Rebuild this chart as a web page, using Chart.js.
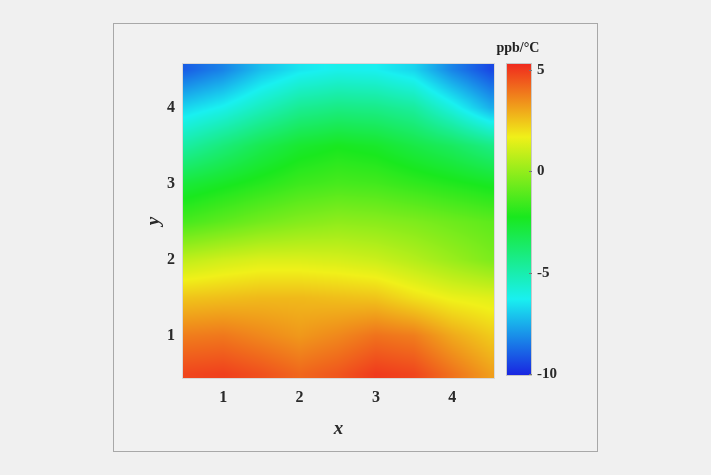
<!DOCTYPE html>
<html>
<head>
<meta charset="utf-8">
<script src="https://cdn.jsdelivr.net/npm/chart.js@4.4.1/dist/chart.umd.min.js"></script>
<style>
  html, body { margin: 0; padding: 0; background: #f0f0f0; }
  body { width: 711px; height: 475px; position: relative; overflow: hidden; }
  #frame { position: absolute; left: 113px; top: 23px; width: 483px; height: 427px; border: 1px solid #a8a8a8; background: #f1f1f1; }
  #main { position: absolute; left: 0; top: 0; }
  #cbar { position: absolute; left: 490px; top: 30px; }
  #unit { position: absolute; left: 488px; top: 40px; width: 60px; text-align: center;
          font: bold 14px "Liberation Serif", serif; color: #222; }
</style>
</head>
<body>
<div id="frame"></div>
<canvas id="main" width="711" height="475"></canvas>
<canvas id="cbar" width="100" height="360"></canvas>
<div id="unit">ppb/°C</div>
<script>
// grid of values (rows from y = 0.5 up to y = 4.5)
const xGrid = [0.5, 1, 1.5, 2, 2.5, 3, 3.5, 4, 4.5];
const yGrid = [0.5, 1, 1.5, 2, 2.5, 3, 3.5, 4, 4.5];
const zRows = [
  [4.8, 4.9, 4.6, 4.2, 4.5, 5.0, 4.8, 4.0, 3.2],
  [3.8, 3.9, 3.6, 3.3, 3.6, 4.0, 3.8, 3.0, 2.4],
  [2.5, 2.6, 2.7, 2.7, 2.6, 2.5, 2.0, 1.6, 1.4],
  [0.8, 1.1, 1.3, 1.3, 1.2, 1.0, 0.6, 0.1, -0.4],
  [-1.4, -1.0, -0.6, -0.3, -0.1, -0.2, -0.4, -0.7, -1.0],
  [-2.8, -2.4, -2.0, -1.6, -1.4, -1.5, -1.8, -2.1, -2.4],
  [-4.8, -4.0, -3.2, -2.6, -2.3, -2.5, -3.0, -3.5, -4.2],
  [-6.8, -6.2, -5.3, -4.5, -4.2, -4.3, -4.7, -6.0, -7.5],
  [-9.0, -8.3, -7.2, -6.5, -6.2, -6.3, -6.8, -8.3, -9.4]
];
const xTicks = [1, 2, 3, 4];
const yTicks = [1, 2, 3, 4];
const cbTicks = [-10, -5, 0, 5];
const cmapValues = [-10.1, -6.3, -2.25, 1.7, 5.35];
const cmapColors = [[25, 35, 225], [25, 240, 240], [25, 232, 30], [240, 240, 25], [240, 40, 30]];

function colorFor(v) {
  if (v <= cmapValues[0]) return cmapColors[0];
  for (let i = 1; i < cmapValues.length; i++) {
    if (v <= cmapValues[i]) {
      const t = (v - cmapValues[i - 1]) / (cmapValues[i] - cmapValues[i - 1]);
      const a = cmapColors[i - 1], b = cmapColors[i];
      return [a[0] + (b[0] - a[0]) * t, a[1] + (b[1] - a[1]) * t, a[2] + (b[2] - a[2]) * t];
    }
  }
  return cmapColors[cmapColors.length - 1];
}

function locate(arr, v) {
  if (v <= arr[0]) return [0, 0];
  const n = arr.length - 1;
  if (v >= arr[n]) return [n - 1, 1];
  for (let i = 0; i < n; i++) {
    if (v <= arr[i + 1]) return [i, (v - arr[i]) / (arr[i + 1] - arr[i])];
  }
}

function sample(x, y) {
  const [i, tx] = locate(xGrid, x);
  const [j, ty] = locate(yGrid, y);
  const z00 = zRows[j][i], z10 = zRows[j][i + 1];
  const z01 = zRows[j + 1][i], z11 = zRows[j + 1][i + 1];
  return (z00 * (1 - tx) + z10 * tx) * (1 - ty) + (z01 * (1 - tx) + z11 * tx) * ty;
}

const heatmap = {
  id: 'heatmap',
  beforeDatasetsDraw(chart) {
    const { ctx, chartArea: a, scales } = chart;
    const w = Math.round(a.right - a.left), h = Math.round(a.bottom - a.top);
    const off = document.createElement('canvas');
    off.width = w; off.height = h;
    const octx = off.getContext('2d');
    const img = octx.createImageData(w, h);
    for (let py = 0; py < h; py++) {
      const yv = scales.y.getValueForPixel(a.top + py + 0.5);
      for (let px = 0; px < w; px++) {
        const xv = scales.x.getValueForPixel(a.left + px + 0.5);
        const c = colorFor(sample(xv, yv));
        const k = (py * w + px) * 4;
        img.data[k] = c[0]; img.data[k + 1] = c[1]; img.data[k + 2] = c[2]; img.data[k + 3] = 255;
      }
    }
    octx.putImageData(img, 0, 0);
    ctx.drawImage(off, a.left, a.top);
    ctx.strokeStyle = '#d8d8d8';
    ctx.lineWidth = 1;
    ctx.strokeRect(a.left + 0.5, a.top + 0.5, w - 1, h - 1);
  }
};

const tickFont = { family: 'Liberation Serif', size: 16, weight: 'bold' };
const titleFont = { family: 'Liberation Serif', size: 19, style: 'italic', weight: 'bold' };

new Chart(document.getElementById('main'), {
  type: 'scatter',
  data: { datasets: [{ data: [], pointRadius: 0 }] },
  plugins: [heatmap],
  options: {
    responsive: false,
    animation: false,
    events: [],
    layout: { padding: { left: 130, top: 63, right: 216, bottom: 35 } },
    plugins: { legend: { display: false }, tooltip: { enabled: false } },
    scales: {
      x: {
        type: 'linear', min: 0.46, max: 4.56,
        grid: { display: false, drawTicks: false },
        border: { display: false },
        afterBuildTicks: s => { s.ticks = xTicks.map(v => ({ value: v })); },
        afterFit: s => { s.height = 61; },
        ticks: { font: tickFont, color: '#2a2a2a', padding: 9 },
        title: { display: true, text: 'x', font: titleFont, color: '#2a2a2a', padding: { top: 4, bottom: 0 } }
      },
      y: {
        type: 'linear', min: 0.43, max: 4.59,
        grid: { display: false, drawTicks: false },
        border: { display: false },
        afterBuildTicks: s => { s.ticks = yTicks.map(v => ({ value: v })); },
        afterFit: s => { s.width = 52; },
        ticks: { font: tickFont, color: '#2a2a2a', padding: 7 },
        title: { display: true, text: 'y', font: titleFont, color: '#2a2a2a', padding: { top: 13, bottom: 0 } }
      }
    }
  }
});

const gradientBar = {
  id: 'gradientBar',
  beforeDatasetsDraw(chart) {
    const { ctx, chartArea: a, scales } = chart;
    const top = scales.y.getPixelForValue(cmapValues[cmapValues.length - 1]);
    const bot = scales.y.getPixelForValue(cmapValues[0]);
    const g = ctx.createLinearGradient(0, bot, 0, top);
    cmapValues.forEach((v, i) => {
      const c = cmapColors[i];
      g.addColorStop((v - cmapValues[0]) / (cmapValues[cmapValues.length - 1] - cmapValues[0]), `rgb(${c[0]},${c[1]},${c[2]})`);
    });
    ctx.fillStyle = g;
    ctx.fillRect(a.left, a.top, a.right - a.left, a.bottom - a.top);
    ctx.strokeStyle = '#c8c8c8';
    ctx.lineWidth = 1;
    ctx.strokeRect(a.left + 0.5, a.top + 0.5, a.right - a.left - 1, a.bottom - a.top - 1);
    ctx.strokeStyle = '#777';
    cbTicks.forEach(v => {
      const y = Math.round(scales.y.getPixelForValue(v)) + 0.5;
      ctx.beginPath();
      ctx.moveTo(a.right - 3, y);
      ctx.lineTo(a.right, y);
      ctx.stroke();
    });
  }
};

new Chart(document.getElementById('cbar'), {
  type: 'scatter',
  data: { datasets: [{ data: [], pointRadius: 0 }] },
  plugins: [gradientBar],
  options: {
    responsive: false,
    animation: false,
    events: [],
    layout: { padding: { left: 16, top: 33, right: 0, bottom: 5 } },
    plugins: { legend: { display: false }, tooltip: { enabled: false } },
    scales: {
      x: { display: false, min: 0, max: 1 },
      y: {
        type: 'linear', position: 'right', min: -10.1, max: 5.35,
        grid: { display: false, drawTicks: false },
        border: { display: false },
        afterBuildTicks: s => { s.ticks = cbTicks.map(v => ({ value: v })); },
        afterFit: s => { s.width = 58; },
        ticks: { font: { family: 'Liberation Serif', size: 15, weight: 'bold' }, color: '#2a2a2a', padding: 5 }
      }
    }
  }
});
</script>
</body>
</html>
